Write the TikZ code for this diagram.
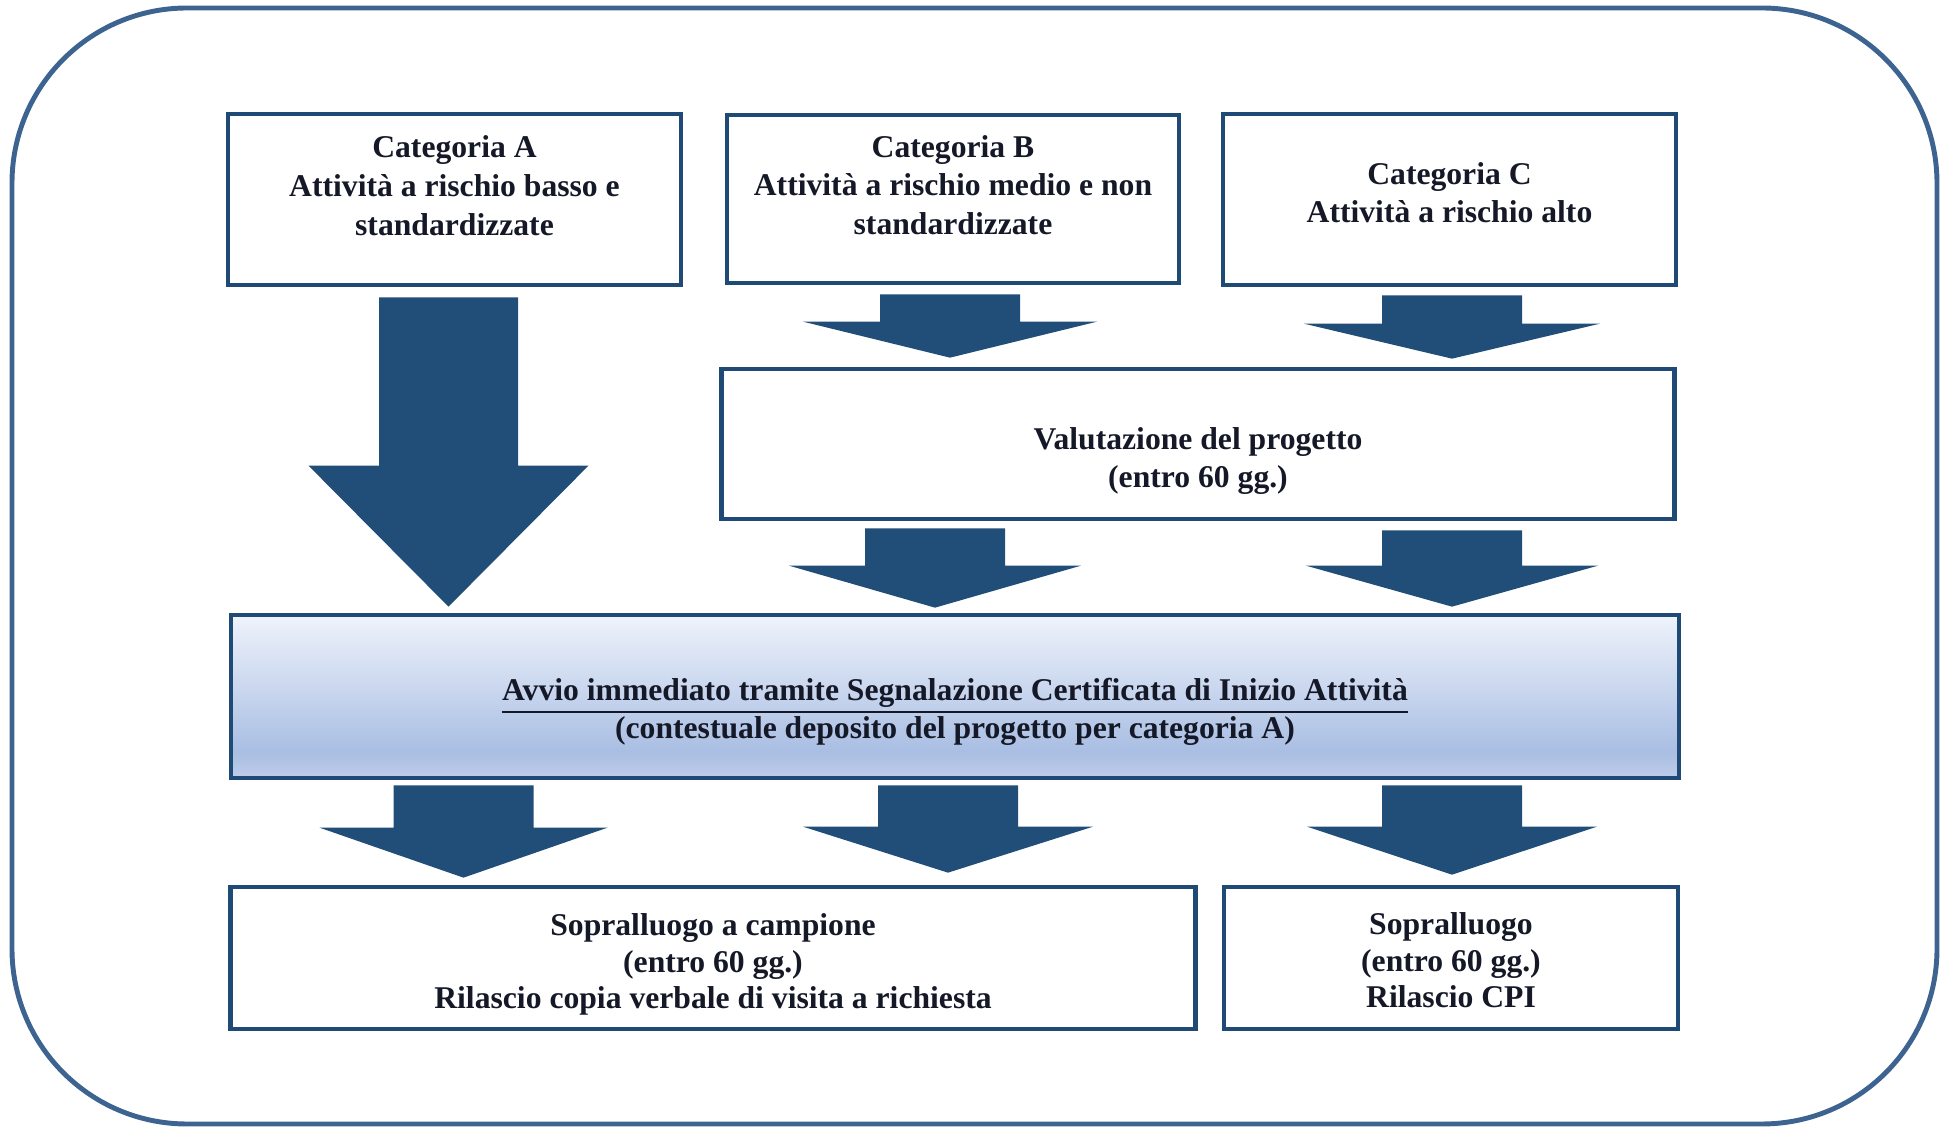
\documentclass[tikz,border=0pt]{standalone}
\usepackage{fontspec}
\setmainfont{Liberation Serif}
\usetikzlibrary{calc}

\definecolor{framec}{HTML}{3D6491}
\definecolor{boxc}{HTML}{1F4A76}
\definecolor{arrowc}{HTML}{214E78}
\definecolor{textc}{HTML}{141827}
\definecolor{sciatop}{HTML}{EFF3FB}
\definecolor{sciamid}{HTML}{A9BEE3}
\definecolor{sciabot}{HTML}{BFCDE9}

\pgfdeclareverticalshading{sciashade}{100bp}{color(0bp)=(sciabot); color(25bp)=(sciabot);
  color(33bp)=(sciamid); color(75bp)=(sciatop); color(100bp)=(sciatop)}

% block arrow: start, tip, half shaft, half head, head length
\newcommand\blockarrow[5]{%
  \fill[arrowfill] ($(#1)+(-#3,0)$) -- ($(#2)+(-#3,-#5)$) -- ($(#2)+(-#4,-#5)$) -- (#2)
    -- ($(#2)+(#4,-#5)$) -- ($(#2)+(#3,-#5)$) -- ($(#1)+(#3,0)$) -- cycle;}
\newcommand\lift[1]{\rule[-#1]{0pt}{#1}}
\newcommand\sink[1]{\rule{0pt}{#1}}

\begin{document}
\begin{tikzpicture}[
  x=0.01cm, y=-0.01cm,
  every node/.style={text=textc, font=\fontsize{9}{11}\selectfont\bfseries, align=center},
  box/.style={draw=boxc, line width=1.3pt, inner sep=0pt},
  tight/.style={font=\fontsize{9}{10.3}\selectfont\bfseries},
  arrowfill/.style={fill=arrowc},
  ]

\useasboundingbox (0,0) rectangle (1941,1131);
\draw[framec, line width=1.4pt, rounded corners=1.75cm] (12,8) rectangle (1937,1124);

% categories
\node[box, minimum width=4.53cm, minimum height=1.71cm] (catA) at (454.5,199.5)
  {Categoria A\\Attività a rischio basso e\\standardizzate\lift{8pt}};
\node[box, minimum width=4.52cm, minimum height=1.68cm] (catB) at (953,199)
  {Categoria B\\Attività a rischio medio e non\\standardizzate\lift{8pt}};
\node[box, minimum width=4.53cm, minimum height=1.71cm] (catC) at (1449.5,199.5)
  {Categoria C\\Attività a rischio alto\lift{4pt}};

\node[box, minimum width=9.52cm, minimum height=1.5cm] (valut) at (1198,444)
  {\sink{16pt}Valutazione del progetto\\(entro 60 gg.)};

\node[box, shading=sciashade, minimum width=14.47cm, minimum height=1.63cm] (scia) at (955,696.5)
  {\sink{15pt}\underline{Avvio immediato tramite Segnalazione Certificata di Inizio Attività}\\(contestuale deposito del progetto per categoria A)};

\node[box, tight, minimum width=9.64cm, minimum height=1.42cm] (sopA) at (713,958)
  {\sink{10pt}Sopralluogo a campione\\(entro 60 gg.)\\Rilascio copia verbale di visita a richiesta};
\node[box, tight, minimum width=4.54cm, minimum height=1.42cm] (sopC) at (1451,958)
  {\sink{10pt}Sopralluogo\\(entro 60 gg.)\\Rilascio CPI\lift{2.5pt}};

% arrows
\coordinate (a1) at ($(catA.south)+(-6,10)$);
\coordinate (a1e) at ($(a1 |- scia.north)+(0,-6)$);
\coordinate (b1) at ($(catB.south)+(-3,9)$);
\coordinate (b1e) at ($(b1 |- valut.north)+(0,-9)$);
\coordinate (c1) at ($(catC.south)+(2.5,8)$);
\coordinate (c1e) at ($(c1 |- valut.north)+(0,-8)$);
\coordinate (b2) at ($(b1 |- valut.south)+(-15,7)$);
\coordinate (b2e) at ($(b2 |- scia.north)+(0,-5)$);
\coordinate (c2) at ($(c1 |- valut.south)+(0,9)$);
\coordinate (c2e) at ($(c2 |- scia.north)+(0,-6)$);
\coordinate (s1) at ($(a1 |- scia.south)+(15,5)$);
\coordinate (s1e) at ($(s1 |- sopA.north)+(0,-7)$);
\coordinate (s2) at ($(b1 |- scia.south)+(-2,5)$);
\coordinate (s2e) at ($(s2 |- sopA.north)+(0,-12)$);
\coordinate (s3) at ($(c1 |- scia.south)+(0,5)$);
\coordinate (s3e) at ($(s3 |- sopC.north)+(0,-10)$);

\blockarrow{a1}{a1e}{69.5}{140}{141}
\blockarrow{b1}{b1e}{70}{147}{36}
\blockarrow{c1}{c1e}{70}{148}{35}
\blockarrow{b2}{b2e}{70}{146}{42}
\blockarrow{c2}{c2e}{70}{146}{41}
\blockarrow{s1}{s1e}{70}{144}{50}
\blockarrow{s2}{s2e}{70}{145}{46}
\blockarrow{s3}{s3e}{70}{145}{48}

\end{tikzpicture}
\end{document}
